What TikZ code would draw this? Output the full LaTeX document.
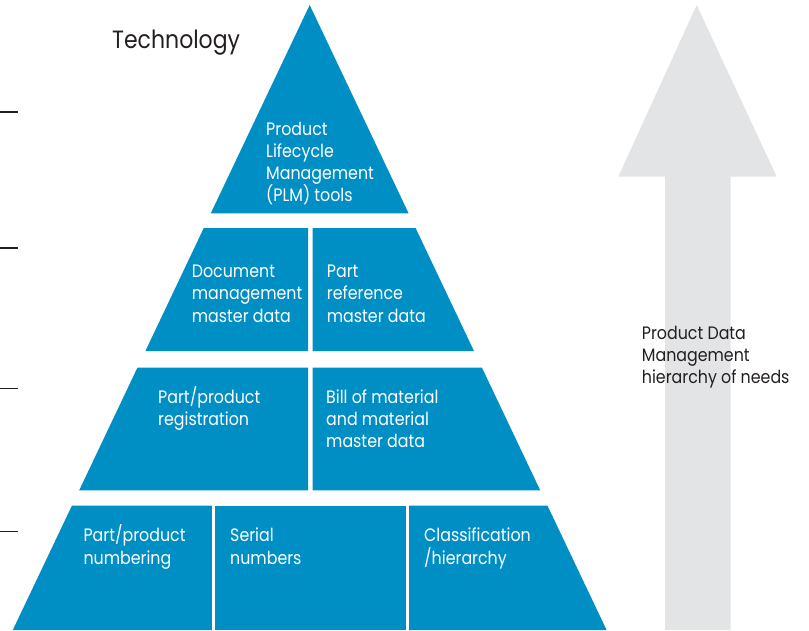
\documentclass[tikz,border=0pt]{standalone}
\usepackage{fontspec}
\setmainfont{Poppins}[FakeStretch=0.88]
\definecolor{pyrblue}{RGB}{0,143,197}
\definecolor{arrgray}{RGB}{227,228,230}
\definecolor{txtdark}{RGB}{35,31,32}
\begin{document}
\begin{tikzpicture}[x=1pt,y=-1pt,
  cell/.style={fill=pyrblue},
  wtxt/.style={anchor=base west,inner sep=0pt,text=white,font=\fontsize{18}{21}\selectfont},
  dtxt/.style={anchor=base west,inner sep=0pt,text=txtdark,font=\fontsize{18}{21}\selectfont},
  tickmark/.style={draw=txtdark,line width=1.5pt}]
\useasboundingbox (0,0) rectangle (809,630);
% arrow
\fill[arrgray] (696.7,5) -- (776.7,176.7) -- (730.7,176.7) -- (730.7,630) -- (665,630) -- (665,176.7) -- (618.3,176.7) -- cycle;
% pyramid
\fill[cell] (309.7,5) -- (408.6,213.3) -- (210.8,213.3) -- cycle;
\fill[cell] (203.8,228) -- (308.2,228) -- (308.2,351) -- (145.4,351) -- cycle;
\fill[cell] (312.6,228) -- (415.6,228) -- (474.0,351) -- (312.6,351) -- cycle;
\fill[cell] (137.5,367.5) -- (308.2,367.5) -- (308.2,490.3) -- (79.2,490.3) -- cycle;
\fill[cell] (312.6,367.5) -- (481.9,367.5) -- (540.2,490.3) -- (312.6,490.3) -- cycle;
\fill[cell] (71.9,505.7) -- (211.8,505.7) -- (211.8,630) -- (12.8,630) -- cycle;
\fill[cell] (215.0,505.7) -- (405.8,505.7) -- (405.8,630) -- (215.0,630) -- cycle;
\fill[cell] (409.0,505.7) -- (547.5,505.7) -- (606.6,630) -- (409.0,630) -- cycle;
% ticks
\draw[tickmark] (0,112) -- (18,112);
\draw[tickmark] (0,248) -- (18,248);
\draw[tickmark] (0,388.3) -- (18,388.3);
\draw[tickmark] (0,531.5) -- (18,531.5);
% texts
\node[dtxt,font=\fontsize{25}{28}\selectfont] (tech) at (112,48.3) {Technology};
\node[wtxt] (plma) at (266,135) {Product};
\node[wtxt] (plmb) at (266,157.2) {Lifecycle};
\node[wtxt] (plmc) at (266,179.5) {Management};
\node[wtxt] (plmd) at (266,201.7) {(PLM) tools};
\node[wtxt] (doca) at (191.7,277.3) {Document};
\node[wtxt] (docb) at (191.7,299.7) {management};
\node[wtxt] (docc) at (191.7,322) {master data};
\node[wtxt] (prefa) at (326.7,277.3) {Part};
\node[wtxt] (prefb) at (326.7,299.7) {reference};
\node[wtxt] (prefc) at (326.7,322) {master data};
\node[wtxt] (rega) at (158,403.3) {Part/product};
\node[wtxt] (regb) at (158,425.5) {registration};
\node[wtxt] (boma) at (326,403.3) {Bill of material};
\node[wtxt] (bomb) at (326,425.5) {and material};
\node[wtxt] (bomc) at (326,447.7) {master data};
\node[wtxt] (numa) at (83.3,541.7) {Part/product};
\node[wtxt] (numb) at (83.3,564) {numbering};
\node[wtxt] (sera) at (230,541.7) {Serial};
\node[wtxt] (serb) at (230,564) {numbers};
\node[wtxt] (clsa) at (424,541.7) {Classification};
\node[wtxt] (clsb) at (424,564) {/hierarchy};
\node[dtxt] (pdma) at (641.7,339.3) {Product Data};
\node[dtxt] (pdmb) at (641.7,361.5) {Management};
\node[dtxt] (pdmc) at (641.7,383.3) {hierarchy of needs};
\end{tikzpicture}
\end{document}
